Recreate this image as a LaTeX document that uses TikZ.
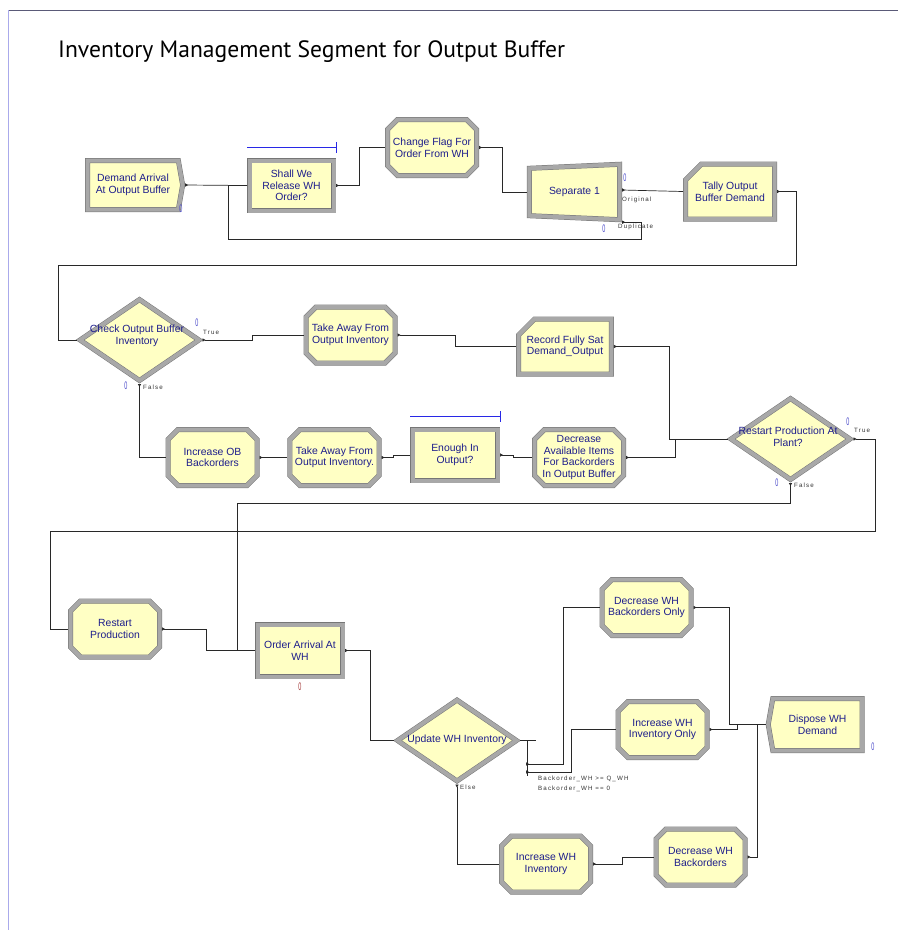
\documentclass[tikz,border=0pt]{standalone}
\usepackage{fontspec}
\usepackage{graphicx}
\setmainfont{Liberation Sans}
\newfontfamily\titlefont{PT Sans}
\newfontfamily\tagfont[LetterSpace=18]{Liberation Sans}
\usetikzlibrary{shapes.misc,shapes.geometric,shapes.symbols,arrows.meta,backgrounds}

\definecolor{modfill}{RGB}{255,255,196}
\definecolor{modrim}{RGB}{168,168,168}
\definecolor{modedge}{RGB}{118,118,118}
\definecolor{modtextc}{RGB}{30,30,140}
\definecolor{wirec}{RGB}{40,40,40}
\definecolor{cntblue}{RGB}{70,70,200}
\definecolor{cntred}{RGB}{160,50,50}
\definecolor{queuec}{RGB}{40,40,230}
\definecolor{framec}{RGB}{90,90,120}
\definecolor{framel}{RGB}{170,170,235}

\tikzset{
  modtext/.style={align=center, text=modtextc, inner sep=0pt,
    font=\fontsize{10.4}{11.6}\selectfont},
  module/.style={modtext, draw=modedge, line width=0.5pt, double=modrim,
    double distance=4pt, fill=modfill, outer sep=2.5pt},
  assignbox/.style={module, chamfered rectangle, chamfered rectangle xsep=5pt,
    chamfered rectangle ysep=5pt, minimum width=89, minimum height=56},
  recordbox/.style={module, chamfered rectangle, chamfered rectangle corners=north west,
    chamfered rectangle xsep=8pt, chamfered rectangle ysep=8pt,
    minimum width=89, minimum height=55},
  holdbox/.style={module, rectangle, minimum width=84, minimum height=50},
  createbox/.style={module, signal, signal to=east, signal pointer angle=160,
    minimum width=95, minimum height=49},
  disposebox/.style={module, signal, signal to=west, signal pointer angle=160,
    minimum width=94, minimum height=52},
  decidebox/.style={module, diamond, minimum width=121, minimum height=83},
  sepnode/.style={modtext, minimum width=95, minimum height=60},
  sepshape/.style={draw=modedge, line width=0.5pt, double=modrim,
    double distance=4pt, fill=modfill},
  conn/.style={draw=wirec, line width=0.7pt,
    {Triangle[reversed, length=3pt, width=3.2pt]}-},
  wire/.style={draw=wirec, line width=0.7pt},
  queue/.style={draw=queuec, line width=0.8pt},
  cnt/.style={text=cntblue, inner sep=0pt, font=\fontsize{11}{11}\selectfont},
  tag/.style={anchor=west, inner sep=0pt, text=black!80,
    font=\tagfont\fontsize{6.2}{7}\selectfont}
}

\newcommand{\zero}{\scalebox{0.5}[1]{0}}

\begin{document}
\begin{tikzpicture}[x=1pt, y=-1pt]
  \useasboundingbox (0,0) rectangle (898,930);
  % frame and title
  \draw[framec, line width=0.8pt] (8,10) -- (898,10);
  \draw[framel, line width=0.8pt] (8,10) -- (8,930);
  \node[anchor=west, inner sep=0pt, font=\titlefont\fontsize{23.6}{26}\selectfont]
    (title) at (58,52) {Inventory Management Segment for Output Buffer};

  % top row
  \node[createbox] (arr) at (133,185) {Demand Arrival\\At Output Buffer};
  \node[holdbox] (hold1) at (291.5,185.5) {Shall We\\Release WH\\Order?};
  \node[assignbox] (flag) at (432,147.5) {Change Flag For\\Order From WH};
  \node[sepnode] (sep) at (574.5,192) {Separate 1};
  \begin{pgfonlayer}{background}
    \draw[sepshape] ([xshift=2.5pt,yshift=-6.5pt]sep.north west)
      -- ([xshift=-2.5pt,yshift=-2.5pt]sep.north east)
      -- ([xshift=-2.5pt,yshift=2.5pt]sep.south east)
      -- ([xshift=2.5pt,yshift=6.5pt]sep.south west) -- cycle;
  \end{pgfonlayer}
  \node[recordbox] (tally) at (730,191.5) {Tally Output\\Buffer Demand};

  % second row
  \node[decidebox] (chk) at (139.5,340) {};
  \node[modtext] (chk-t) at (137,336) {Check Output Buffer\\Inventory};
  \node[assignbox] (take1) at (350.5,335) {Take Away From\\Output Inventory};
  \node[recordbox] (rec) at (565,346.5) {Record Fully Sat\\Demand\_Output};

  % third row
  \node[assignbox] (incob) at (212.5,457.5) {Increase OB\\Backorders};
  \node[assignbox] (take2) at (334.5,457.5) {Take Away From\\Output Inventory.};
  \node[holdbox, minimum width=85, minimum height=51] (hold2) at (455,455) {Enough In\\Output?};
  \node[assignbox] (decav) at (579,457.5) {Decrease\\Available Items\\For Backorders\\In Output Buffer};
  \node[decidebox] (plant) at (790.5,439) {};
  \node[modtext] (plant-t) at (788,437) {Restart Production At\\Plant?};

  % warehouse part
  \node[assignbox] (rstp) at (115,629) {Restart\\Production};
  \node[holdbox, minimum width=85, minimum height=52] (ordwh) at (300,650.5) {Order Arrival At\\WH};
  \node[decidebox] (upd) at (457,740.5) {};
  \node[modtext] (upd-t) at (457,740) {Update WH Inventory};
  \node[assignbox] (decbo) at (646.5,607.5) {Decrease WH\\Backorders Only};
  \node[assignbox] (incio) at (662.5,729.5) {Increase WH\\Inventory Only};
  \node[disposebox] (disp) at (817.5,724.5) {Dispose WH\\Demand};
  \node[assignbox] (incwh) at (546,864) {Increase WH\\Inventory};
  \node[assignbox] (decwh) at (700.5,857) {Decrease WH\\Backorders};

  % queues of the hold modules
  \draw[queue] ([yshift=11pt]hold1.north west) -- ([yshift=11pt]hold1.north east)
    ([yshift=16pt]hold1.north east) -- ([yshift=5pt]hold1.north east);
  \draw[queue] ([yshift=11pt]hold2.north west) -- ([yshift=11pt]hold2.north east)
    ([yshift=16pt]hold2.north east) -- ([yshift=5pt]hold2.north east);

  % bend points
  \coordinate (dup-bend) at (228,239);
  \coordinate (fb-bend) at (58,265);
  \coordinate (rs-bend) at (50,531);
  \coordinate (ow-bend) at (237,503);
  \coordinate (upd-x1) at (526,764);
  \coordinate (upd-x2) at (526,772);

  % connectors
  \draw[conn] (arr.east) -- (hold1.west);
  \draw[conn] (hold1.east) -- ++(23,0) |- (flag.west);
  \draw[conn] (flag.east) -- ++(23,0) |- (sep.west);
  \draw[conn] ([yshift=2pt]sep.east) -- (tally.west);
  \draw[conn] (sep.south east) -- ++(19,0) |- (dup-bend) |- (hold1.west);
  \draw[conn] (tally.east) -- ++(19,0) |- (fb-bend) |- (chk.west);
  \draw[conn] (chk.east) -- ++(50,0) |- (take1.west);
  \draw[conn] (take1.east) -- ++(58,0) |- (rec.west);
  \draw[conn] (rec.east) -- ++(55,0) |- (plant.west);
  \draw[conn] (chk.south) |- (incob.west);
  \draw[conn] (incob.east) -- (take2.west);
  \draw[conn] (take2.east) -- ++(12,0) |- (hold2.west);
  \draw[conn] (hold2.east) -- ++(13,0) |- (decav.west);
  \draw[conn] (decav.east) -- ++(49,0) |- (plant.west);
  \draw[conn] (plant.east) -- ++(22,0) |- (rs-bend) |- (rstp.west);
  \draw[conn] (plant.south) |- (ow-bend) |- (ordwh.west);
  \draw[conn] (rstp.east) -- ++(44,0) |- (ordwh.west);
  \draw[conn] (ordwh.east) -- ++(25,0) |- (upd.west);
  \draw[wire] (upd.east) -- ++(16,0);
  \draw[wire] ([xshift=7pt]upd.east) -- ++(0,35);
  \draw[conn] (upd-x1) -- ++(37,0) |- (decbo.west);
  \draw[conn] (upd-x2) -- ++(45,0) |- (incio.west);
  \draw[conn] (upd.south) |- (incwh.west);
  \draw[conn] (incwh.east) -- ++(29,0) |- (decwh.west);
  \draw[conn] (decbo.east) -- ++(36,0) |- (disp.west);
  \draw[conn] (incio.east) -- ++(28,0) |- (disp.west);
  \draw[conn] (decwh.east) -- ++(10,0) |- (disp.west);

  % counters
  \node[cnt] (c-arr) at (181,209) {\zero};
  \node[cnt] (c-sep1) at (625,178) {\zero};
  \node[cnt] (c-sep2) at (604,229) {\zero};
  \node[cnt] (c-chk1) at (197,323) {\zero};
  \node[cnt] (c-chk2) at (126,386) {\zero};
  \node[cnt] (c-pl1) at (848,422) {\zero};
  \node[cnt] (c-pl2) at (777,483) {\zero};
  \node[cnt, text=cntred] (c-ord) at (300,687) {\zero};
  \node[cnt] (c-disp) at (873,747) {\zero};

  % exit labels
  \node[tag] (t-orig) at (622,200) {Original};
  \node[tag] (t-dup) at (618,227) {Duplicate};
  \node[tag] (t-chk1) at (203,332) {True};
  \node[tag] (t-chk2) at (143,387) {False};
  \node[tag] (t-pl1) at (854,430) {True};
  \node[tag] (t-pl2) at (794,485) {False};
  \node[tag] (t-else) at (460,787) {Else};
  \node[tag] (t-c1) at (538,779) {Backorder\_WH >= Q\_WH};
  \node[tag] (t-c2) at (538,789) {Backorder\_WH == 0};
\end{tikzpicture}
\end{document}
